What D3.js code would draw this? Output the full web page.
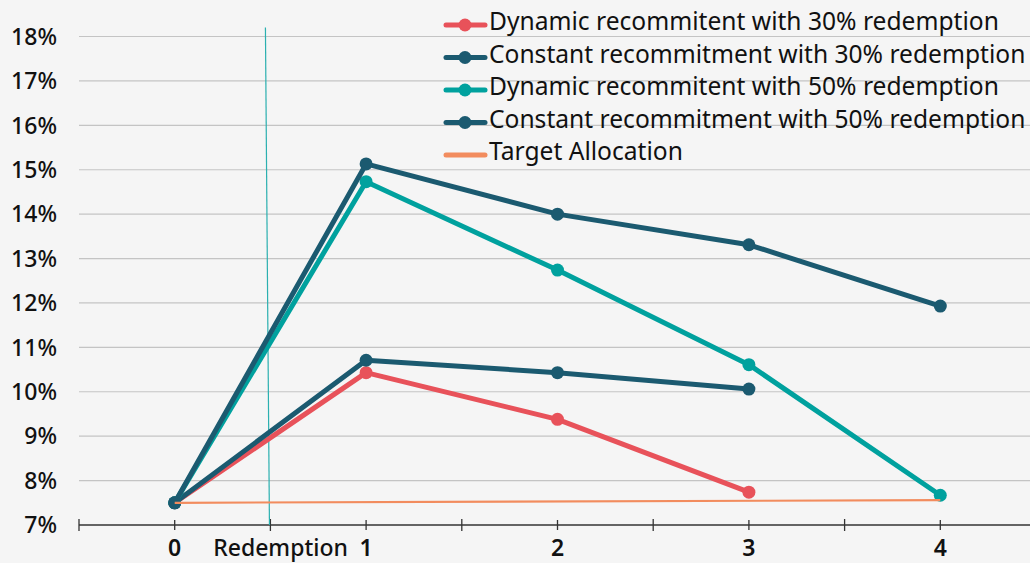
<!DOCTYPE html>
<html>
<head>
<meta charset="utf-8">
<script src="https://cdn.jsdelivr.net/npm/d3@7"></script>
<style>
  html, body { margin: 0; padding: 0; background: #f5f5f5; }
  svg { display: block; font-family: "Noto Sans", sans-serif; }
</style>
</head>
<body>
<svg width="1030" height="563"></svg>
<script>
// periods after the redemption event
var periods = [0, 1, 2, 3, 4];

var seriesNames = [
  "Dynamic recommitent with 30% redemption",
  "Constant recommitment with 30% redemption",
  "Dynamic recommitent with 50% redemption",
  "Constant recommitment with 50% redemption",
  "Target Allocation"
];
var seriesColors = ["#e8525a", "#1b5a70", "#00a19e", "#1b5a70", "#f28c5e"];

// allocation in %
var dynamic30 = [7.5, 10.43, 9.38, 7.74];
var constant30 = [7.5, 10.71, 10.43, 10.06];
var dynamic50 = [7.5, 14.73, 12.74, 10.61, 7.67];
var constant50 = [7.5, 15.13, 14.0, 13.31, 11.93];
var targetAlloc = [7.5, 7.56];
var targetPeriods = [0, 4];

var yTicks = [7, 8, 9, 10, 11, 12, 13, 14, 15, 16, 17, 18];
var xTicks = [-0.5, 0, 0.5, 1, 1.5, 2, 2.5, 3, 3.5, 4];
var xLabels = [{ x: 0, t: "0" }, { x: 0.553, t: "Redemption" }, { x: 1, t: "1" },
               { x: 2, t: "2" }, { x: 3, t: "3" }, { x: 4, t: "4" }];
// redemption marker (slightly slanted in the source)
var redemptionX = [0.474, 0.495];
var redemptionY = [18.2, 7];

var svg = d3.select("svg"),
    width = +svg.attr("width"),
    height = +svg.attr("height");

var x = d3.scaleLinear().domain([-0.5, 4.5]).range([79, 1036]);
var y = d3.scaleLinear().domain([7, 18]).range([525, 36.5]);

// grid
svg.append("g")
  .selectAll("line")
  .data(yTicks.slice(1))
  .enter().append("line")
    .attr("x1", x(-0.5))
    .attr("x2", width)
    .attr("y1", y)
    .attr("y2", y)
    .attr("stroke", "#c4c4c4")
    .attr("stroke-width", 1.2);

svg.append("g")
  .selectAll("text")
  .data(yTicks)
  .enter().append("text")
    .attr("x", 57)
    .attr("y", y)
    .attr("dy", "0.36em")
    .attr("text-anchor", "end")
    .attr("font-size", 23)
    .attr("font-weight", 500)
    .attr("fill", "#111")
    .text(function(d) { return d + "%"; });

// x axis
var xAxis = svg.append("g");
xAxis.append("line")
  .attr("x1", x(-0.5))
  .attr("x2", width)
  .attr("y1", y(7))
  .attr("y2", y(7))
  .attr("stroke", "#333")
  .attr("stroke-width", 1.3);

xAxis.selectAll(".tick")
  .data(xTicks)
  .enter().append("line")
    .attr("x1", x)
    .attr("x2", x)
    .attr("y1", function(d) { return y(7) - (d % 1 === 0 ? 5 : 6); })
    .attr("y2", function(d) { return y(7) + (d % 1 === 0 ? 5 : 6); })
    .attr("stroke", "#333")
    .attr("stroke-width", 1.3);

xAxis.selectAll("text")
  .data(xLabels)
  .enter().append("text")
    .attr("x", function(d) { return x(d.x); })
    .attr("y", 556)
    .attr("text-anchor", "middle")
    .attr("font-size", 23)
    .attr("font-weight", function(d) { return d.t === "Redemption" ? 500 : 600; })
    .attr("fill", "#111")
    .text(function(d) { return d.t; });

// redemption line
svg.append("line")
  .attr("x1", x(redemptionX[0]))
  .attr("x2", x(redemptionX[1]))
  .attr("y1", y(redemptionY[0]))
  .attr("y2", y(redemptionY[1]))
  .attr("stroke", "#2bb0b0")
  .attr("stroke-width", 1.2);

var lineGen = d3.line()
  .x(function(d) { return x(d[0]); })
  .y(function(d) { return y(d[1]); });

var series = [dynamic30, constant30, dynamic50, constant50].map(function(vals, i) {
  return { name: seriesNames[i], color: seriesColors[i],
           pts: vals.map(function(v, j) { return [periods[j], v]; }) };
});

var sg = svg.append("g")
  .selectAll("g")
  .data(series)
  .enter().append("g");

sg.append("path")
  .attr("d", function(d) { return lineGen(d.pts); })
  .attr("fill", "none")
  .attr("stroke", function(d) { return d.color; })
  .attr("stroke-width", 5)
  .attr("stroke-linejoin", "round");

sg.selectAll("circle")
  .data(function(d) { return d.pts.map(function(p) { return { p: p, c: d.color }; }); })
  .enter().append("circle")
    .attr("cx", function(d) { return x(d.p[0]); })
    .attr("cy", function(d) { return y(d.p[1]); })
    .attr("r", 6.5)
    .attr("fill", function(d) { return d.c; });

// target allocation
svg.append("path")
  .attr("d", lineGen(targetPeriods.map(function(p, i) { return [p, targetAlloc[i]]; })))
  .attr("fill", "none")
  .attr("stroke", seriesColors[4])
  .attr("stroke-width", 2.2);

// legend
var legend = svg.append("g")
  .selectAll("g")
  .data(seriesNames)
  .enter().append("g")
    .attr("transform", function(d, i) { return "translate(446," + (25 + i * 32.5) + ")"; });

legend.append("line")
  .attr("x1", 0)
  .attr("x2", 39)
  .attr("stroke", function(d, i) { return seriesColors[i]; })
  .attr("stroke-width", 5)
  .attr("stroke-linecap", "round");

legend.filter(function(d, i) { return i < 4; })
  .append("circle")
    .attr("cx", 19)
    .attr("r", 6.5)
    .attr("fill", function(d, i) { return seriesColors[i]; });

legend.append("text")
  .attr("x", 43)
  .attr("y", 5)
  .attr("font-size", 24.6)
  .attr("fill", "#111")
  .text(function(d) { return d; });
</script>
</body>
</html>
